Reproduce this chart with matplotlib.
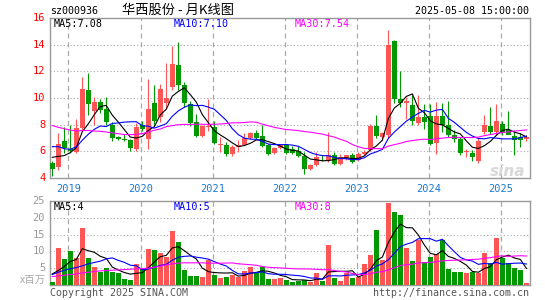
import numpy as np
import pandas as pd
import matplotlib
matplotlib.use("Agg")
import matplotlib.pyplot as plt

plt.rcParams['font.family'] = ['DejaVu Sans Mono', 'Noto Sans CJK SC']

# monthly candles, 2018-10 .. 2025-05
months = pd.period_range("2018-10", "2025-05", freq="M")

opens = [5.13, 4.83, 6.75, 6.20, 5.95, 7.78, 10.58, 9.03, 9.70, 9.20,
         7.95, 7.05, 6.95, 6.83, 6.20, 7.95, 6.95, 9.60, 8.60, 9.65,
         10.80, 12.45, 10.95, 9.53, 8.18, 7.13, 7.80, 7.83, 6.45, 6.45,
         5.78, 6.33, 6.50, 7.03, 7.38, 7.13, 6.45, 5.88, 6.28, 6.45,
         6.15, 6.03, 5.63, 4.65, 5.00, 5.60, 5.33, 5.70, 5.08, 5.45,
         5.70, 5.38, 5.83, 6.08, 7.88, 7.08, 7.20, 14.30, 9.90, 9.60,
         9.45, 8.13, 8.58, 8.63, 6.63, 8.63, 7.95, 7.20, 6.90, 5.95,
         5.88, 5.25, 7.45, 7.88, 7.45, 8.08, 7.60, 7.13, 7.05, 6.95]
highs = [5.28, 7.38, 7.83, 8.00, 8.45, 11.55, 11.88, 10.10, 9.90, 10.05,
         8.20, 7.15, 7.30, 6.95, 8.10, 8.30, 11.40, 11.00, 11.08, 12.60,
         13.90, 14.20, 11.20, 9.78, 8.80, 7.95, 9.90, 8.28, 7.08, 6.70,
         6.45, 6.83, 7.38, 7.45, 7.63, 7.95, 6.58, 6.33, 6.50, 6.58,
         6.38, 6.38, 5.95, 5.08, 5.95, 5.70, 7.45, 5.95, 5.83, 5.75,
         5.88, 5.95, 6.08, 8.08, 8.70, 7.45, 15.08, 14.33, 12.05, 10.10,
         10.25, 10.20, 9.58, 9.58, 9.70, 9.63, 9.80, 7.60, 7.10, 6.20,
         6.08, 7.00, 8.70, 9.33, 9.58, 8.30, 9.00, 7.58, 7.40, 7.20]
lows = [4.15, 4.63, 5.90, 5.85, 5.85, 7.50, 8.70, 8.00, 8.90, 8.00,
        6.75, 6.85, 6.75, 6.03, 6.00, 7.50, 6.20, 8.00, 8.20, 9.20,
        10.60, 10.58, 9.30, 7.90, 7.10, 7.10, 7.55, 6.55, 5.95, 5.63,
        5.63, 5.95, 6.45, 6.95, 6.90, 6.30, 5.75, 5.80, 6.20, 5.78,
        5.80, 5.60, 4.28, 4.60, 4.90, 5.30, 5.20, 5.00, 5.00, 5.35,
        5.10, 5.30, 5.70, 6.00, 7.00, 6.83, 7.00, 9.60, 9.30, 8.40,
        8.00, 7.95, 7.70, 6.50, 5.83, 7.45, 7.10, 6.70, 5.75, 5.55,
        5.28, 5.15, 7.30, 7.30, 7.20, 7.20, 7.40, 5.70, 6.30, 6.80]
closes = [4.70, 6.58, 6.25, 6.05, 7.78, 10.70, 9.53, 9.70, 9.10, 8.20,
          7.03, 6.95, 6.88, 6.28, 7.85, 7.65, 9.20, 8.25, 10.70, 10.00,
          12.55, 10.95, 9.63, 8.13, 7.18, 7.90, 7.90, 6.63, 6.53, 5.78,
          6.33, 6.50, 7.03, 7.38, 7.03, 6.38, 5.83, 6.28, 6.45, 5.88,
          5.90, 5.63, 4.70, 5.00, 5.58, 5.55, 5.70, 5.08, 5.58, 5.70,
          5.20, 5.83, 5.95, 7.88, 7.15, 7.38, 13.95, 9.90, 9.63, 9.75,
          8.30, 8.58, 8.20, 6.58, 8.63, 7.95, 7.20, 6.90, 5.85, 6.00,
          5.58, 6.75, 7.95, 7.45, 8.28, 7.40, 7.20, 6.85, 6.85, 7.10]
# volume, million shares
volume = [1.0, 11.1, 7.7, 10.1, 8.1, 17.0, 8.1, 5.5, 4.0, 5.1,
          4.0, 3.6, 1.9, 1.6, 6.3, 5.0, 10.8, 10.5, 9.5, 8.3,
          16.1, 12.7, 4.5, 2.7, 2.7, 2.5, 7.5, 3.1, 2.2, 2.5,
          2.9, 2.5, 4.2, 5.5, 3.7, 5.3, 1.7, 1.7, 2.0, 1.6,
          1.0, 1.3, 1.6, 0.9, 3.7, 1.3, 11.9, 2.2, 1.3, 3.7,
          2.1, 2.5, 6.3, 8.9, 16.4, 7.5, 24.3, 21.6, 20.9, 11.1,
          7.2, 13.5, 6.8, 8.4, 9.1, 13.3, 4.9, 3.9, 3.9, 3.6,
          3.9, 3.7, 9.5, 6.6, 13.9, 7.9, 6.6, 5.2, 4.4, 0.7]

# moving averages at the left edge (history before the first visible month)
ma5_head = [5.55, 5.62, 5.68, 5.90]
ma10_head = [6.35, 6.35, 6.20, 6.15, 6.33, 6.83, 7.28, 7.65, 7.90]
ma30_head = [7.93, 7.80, 7.70, 7.60, 7.53, 7.56, 7.56, 7.52, 7.50, 7.45,
             7.38, 7.32, 7.26, 7.25, 7.27, 7.33, 7.45, 7.58, 7.68, 7.85,
             7.93, 8.00, 8.02, 8.02, 8.03, 8.03, 8.02, 8.03, 8.05]
vma5_head = [3.3, 4.3, 5.5, 7.0]
vma10_head = [3.1, 3.8, 4.4, 4.8, 5.2, 5.7, 6.3, 6.7, 7.1]
vma30_head = [2.5, 2.7, 2.9, 3.1, 3.3, 3.6, 3.8, 4.0, 4.2, 4.3,
              4.4, 4.5, 4.6, 4.7, 4.8, 4.9, 5.0, 5.3, 5.6, 6.0,
              6.3, 6.5, 6.6, 6.6, 6.6, 6.6, 6.5, 6.5, 6.5]

years = [2019, 2020, 2021, 2022, 2023, 2024, 2025]
price_ticks = [4, 6, 8, 10, 12, 14, 16]
vol_ticks = [5, 10, 15, 20, 25]


def moving(values, n, head):
    out = pd.Series(values).rolling(n).mean().to_numpy()
    out[:n - 1] = head
    return out


RED = '#ff5555'
GREEN = '#009900'
FRAME = '#999999'
GRID = '#aaaaaa'
LW = 0.8

x = np.arange(len(months))
o, h, l, c = map(np.array, (opens, highs, lows, closes))
up = c >= o
cols = np.where(up, RED, GREEN)
v = np.array(volume)

W, H = 545, 300
fig = plt.figure(figsize=(W / 100, H / 100), dpi=100)


def box(left, top, right, bottom):
    return [left / W, 1 - bottom / H, (right - left) / W, (bottom - top) / H]


ax = fig.add_axes(box(50, 18, 530, 178))
axv = fig.add_axes(box(50, 201, 530, 285))

xlim = (-0.38, 79.6)
labels = list(months.strftime('%Y-%m'))
jan_pos = [labels.index(f"{y}-01") - 0.3 for y in years]

# price panel
ax.vlines(x, l, h, colors=cols, linewidth=0.8, zorder=3)
ax.bar(x, np.maximum(np.abs(c - o), 0.06), bottom=np.minimum(o, c),
       width=0.75, color=cols, linewidth=0, zorder=3)
ax.plot(x, moving(closes, 5, ma5_head), color='black', lw=LW, zorder=4)
ax.plot(x, moving(closes, 10, ma10_head), color='#0000ff', lw=LW, zorder=4)
ax.plot(x, moving(closes, 30, ma30_head), color='#ff00ff', lw=LW, zorder=4)
ax.set_ylim(4, 16)
for t in price_ticks[1:-1]:
    ax.axhline(t, color=GRID, lw=0.8, ls=(0, (1, 2)), zorder=1)

# volume panel
axv.bar(x, v, width=0.78, color=cols, linewidth=0, zorder=3)
axv.plot(x, moving(volume, 5, vma5_head), color='black', lw=LW, zorder=4)
axv.plot(x, moving(volume, 10, vma10_head), color='#0000ff', lw=LW, zorder=4)
axv.plot(x, moving(volume, 30, vma30_head), color='#ff00ff', lw=LW, zorder=4)
axv.set_ylim(0, 25)
for t in vol_ticks[:-1]:
    axv.axhline(t, color=GRID, lw=0.8, ls=(0, (1, 2)), zorder=1)

for a in (ax, axv):
    a.set_xlim(*xlim)
    for p in jan_pos:
        a.axvline(p, color=GRID, lw=0.9, ls=(0, (4, 3)), zorder=1)
    a.set_xticks([])
    a.set_yticks([])
    for s in a.spines.values():
        s.set_color(FRAME)
        s.set_linewidth(1.0)

# tick labels
for t in price_ticks:
    ax.text(-0.01, t, str(t), transform=ax.get_yaxis_transform(),
            ha='right', va='center', color='#ff0000', fontsize=7.5)
for t in vol_ticks:
    axv.text(-0.01, t, str(t), transform=axv.get_yaxis_transform(),
             ha='right', va='center', color='#999999', fontsize=7.5)
for y, p in zip(years, jan_pos):
    ax.text(p, -0.035, str(y), transform=ax.get_xaxis_transform(),
            ha='center', va='top', color='#1a7ad0', fontsize=7.5)


def ftext(px, py, s, **kw):
    fig.text(px / W, 1 - py / H, s, va='center', **kw)


ftext(50, 11, "sz000936", fontsize=7.2, color='black')
ftext(178, 10, "华西股份 - 月K线图", fontsize=9.5, color='black', ha='center',
      family=['Noto Sans CJK SC', 'DejaVu Sans'])
ftext(529, 11, "2025-05-08 15:00:00", fontsize=7.2, color='black', ha='right')

ftext(54, 24, "MA5:7.08", fontsize=7.3, color='black')
ftext(174, 24, "MA10:7.10", fontsize=7.3, color='#0000ff')
ftext(295, 24, "MA30:7.54", fontsize=7.3, color='#ff00ff')
ftext(54, 207, "MA5:4", fontsize=7.3, color='black')
ftext(174, 207, "MA10:5", fontsize=7.3, color='#0000ff')
ftext(295, 207, "MA30:8", fontsize=7.3, color='#ff00ff')

ftext(46, 280, "x百万", fontsize=7.5, color='#aaaaaa', ha='right',
      family=['Noto Sans CJK SC', 'DejaVu Sans'])
ftext(50, 293, "Copyright 2025 SINA.COM", fontsize=7.2, color='#555555')
ftext(529, 293, "http://finance.sina.com.cn", fontsize=7.2, color='#555555',
      ha='right')
ftext(508, 172, "sina", fontsize=11, color='#d8d8d8', ha='center',
      style='italic', weight='bold', family='DejaVu Sans')

fig.savefig("out.png", dpi=100)
